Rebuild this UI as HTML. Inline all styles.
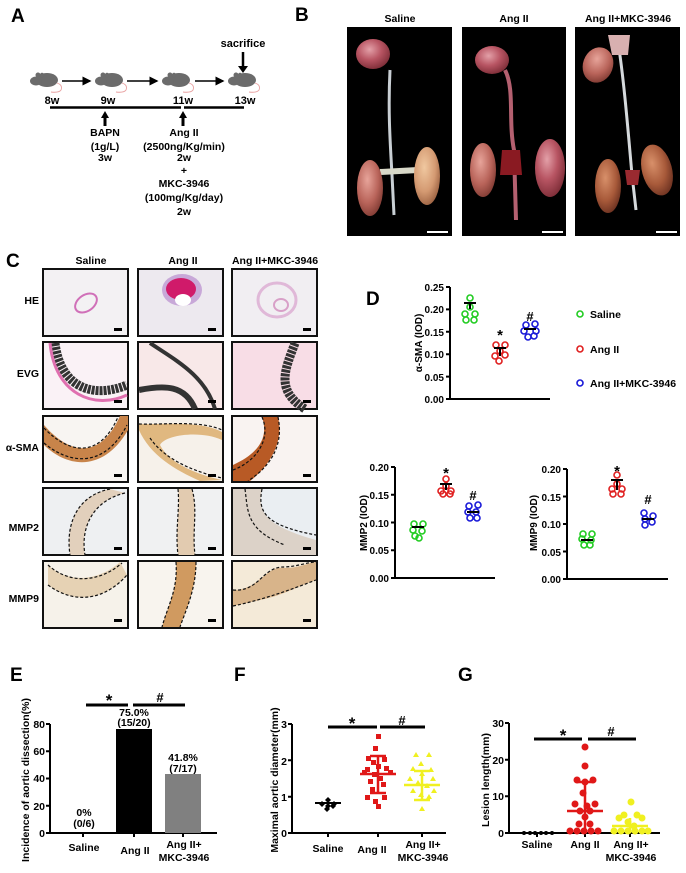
<!DOCTYPE html>
<html><head><meta charset="utf-8"><style>
html,body{margin:0;padding:0;background:#fff}
svg{display:block}
text{font-family:"Liberation Sans",sans-serif;font-weight:bold;fill:#000}
</style></head><body>
<svg width="686" height="873" viewBox="0 0 686 873" xmlns="http://www.w3.org/2000/svg">
<defs>
<g id="mouse">
<ellipse cx="2" cy="0" rx="11" ry="7" fill="#6b6b6b"/>
<ellipse cx="-9" cy="1" rx="6" ry="4.5" fill="#6b6b6b"/>
<circle cx="-7" cy="-5" r="2.5" fill="#6b6b6b"/>
<circle cx="-3" cy="-5" r="2.2" fill="#6b6b6b"/>
<path d="M12,3 q6,2 4,7 q-2,3 -10,2" stroke="#e8a0a0" stroke-width="0.9" fill="none"/>
</g>
<marker id="ah" markerWidth="6" markerHeight="6" refX="5" refY="3" orient="auto"><path d="M0,0 L6,3 L0,6 z" fill="#000"/></marker>
<radialGradient id="hrt" cx="40%" cy="35%" r="70%"><stop offset="0" stop-color="#e3a0a8"/><stop offset="0.5" stop-color="#b85563"/><stop offset="1" stop-color="#7a2b35"/></radialGradient>
<radialGradient id="kid" cx="40%" cy="35%" r="70%"><stop offset="0" stop-color="#e7a49a"/><stop offset="0.6" stop-color="#b9645a"/><stop offset="1" stop-color="#7f3a32"/></radialGradient>
<radialGradient id="kid2" cx="40%" cy="35%" r="70%"><stop offset="0" stop-color="#f0c8a0"/><stop offset="0.6" stop-color="#d49a72"/><stop offset="1" stop-color="#9a6040"/></radialGradient>
<radialGradient id="kid3" cx="40%" cy="35%" r="70%"><stop offset="0" stop-color="#d8906a"/><stop offset="0.6" stop-color="#a85a3a"/><stop offset="1" stop-color="#6a3020"/></radialGradient>
</defs>

<!-- Panel A -->
<text x="11" y="22" font-size="19">A</text>
<use href="#mouse" x="45" y="80"/><use href="#mouse" x="110" y="80"/><use href="#mouse" x="177" y="80"/><use href="#mouse" x="243" y="80"/>
<g stroke="#000" stroke-width="1.5" marker-end="url(#ah)">
<line x1="62" y1="81" x2="90" y2="81"/><line x1="127" y1="81" x2="157" y2="81"/><line x1="195" y1="81" x2="223" y2="81"/>
</g>
<text x="243" y="47" font-size="11" text-anchor="middle">sacrifice</text>
<line x1="243" y1="52" x2="243" y2="68" stroke="#000" stroke-width="2.5"/><path d="M238,66 L248,66 L243,73 z"/>
<g font-size="11" text-anchor="middle"><text x="52" y="104">8w</text><text x="108" y="104">9w</text><text x="183" y="104">11w</text><text x="245" y="104">13w</text></g>
<line x1="50" y1="107.5" x2="181" y2="107.5" stroke="#000" stroke-width="2.5"/><line x1="184" y1="107.5" x2="244" y2="107.5" stroke="#000" stroke-width="2.5"/>
<path d="M101,118 L109,118 L105,111 z"/><line x1="105" y1="116" x2="105" y2="126" stroke="#000" stroke-width="3"/>
<path d="M179,118 L187,118 L183,111 z"/><line x1="183" y1="116" x2="183" y2="126" stroke="#000" stroke-width="3"/>
<g font-size="10.5" text-anchor="middle">
<text x="105" y="136">BAPN</text><text x="105" y="150">(1g/L)</text><text x="105" y="161">3w</text>
<text x="184" y="136">Ang II</text><text x="184" y="150">(2500ng/Kg/min)</text><text x="184" y="161">2w</text>
<text x="184" y="174">+</text><text x="184" y="187">MKC-3946</text><text x="184" y="201">(100mg/Kg/day)</text><text x="184" y="215">2w</text>
</g>

<!-- Panel B -->
<text x="295" y="21" font-size="19">B</text>
<g font-size="10.5" text-anchor="middle"><text x="400" y="22">Saline</text><text x="514" y="22">Ang II</text><text x="628" y="22">Ang II+MKC-3946</text></g>
<rect x="347" y="27" width="105" height="209" fill="#000"/>
<rect x="462" y="27" width="104" height="209" fill="#000"/>
<rect x="575" y="27" width="105" height="209" fill="#000"/>
<!-- photo 1 -->
<path d="M390,70 C388,110 390,140 392,175 L394,215" stroke="#c9cfd4" stroke-width="3" fill="none"/>
<path d="M380,172 L418,170" stroke="#d8d8c8" stroke-width="6"/>
<ellipse cx="373" cy="54" rx="17" ry="15" fill="url(#hrt)"/>
<ellipse cx="370" cy="188" rx="13" ry="28" fill="url(#kid)"/>
<ellipse cx="427" cy="176" rx="13" ry="29" fill="url(#kid2)"/>
<rect x="427" y="231" width="21" height="2" fill="#fff"/>
<!-- photo 2 -->
<path d="M505,70 C515,90 508,120 514,150 L516,220" stroke="#b46070" stroke-width="4" fill="none"/>
<path d="M502,150 L520,150 L522,175 L500,175 z" fill="#8a1a22"/>
<ellipse cx="492" cy="60" rx="17" ry="14" fill="url(#hrt)"/>
<ellipse cx="483" cy="170" rx="13" ry="27" fill="url(#kid)"/>
<ellipse cx="550" cy="168" rx="15" ry="29" fill="url(#hrt)"/>
<rect x="542" y="231" width="21" height="2" fill="#fff"/>
<!-- photo 3 -->
<path d="M618,42 C624,80 628,130 632,175 L636,210" stroke="#d5d9dc" stroke-width="3" fill="none"/>
<path d="M608,35 L630,35 L628,55 L612,55 z" fill="#d8b0b0"/>
<ellipse cx="598" cy="65" rx="15" ry="18" fill="url(#kid)" transform="rotate(20 598 65)"/>
<ellipse cx="608" cy="186" rx="13" ry="27" fill="url(#kid3)"/>
<ellipse cx="657" cy="170" rx="15" ry="26" fill="url(#kid3)" transform="rotate(-15 657 170)"/>
<path d="M625,170 L640,170 L638,185 L627,185z" fill="#9a2a30"/>
<rect x="656" y="231" width="21" height="2" fill="#fff"/>

<!-- Panel C -->
<text x="6" y="267" font-size="19">C</text>
<g font-size="10.5" text-anchor="middle"><text x="91" y="264">Saline</text><text x="183" y="264">Ang II</text><text x="275" y="264">Ang II+MKC-3946</text></g>
<g font-size="10.5" text-anchor="end"><text x="39" y="304">HE</text><text x="39" y="377">EVG</text><text x="39" y="451">α-SMA</text><text x="39" y="531">MMP2</text><text x="39" y="602">MMP9</text></g>
<!-- HE row -->
<rect x="43" y="269" width="85" height="67" fill="#f3f1f3" stroke="#111" stroke-width="2"/>
<ellipse cx="86" cy="303" rx="12" ry="8" fill="none" stroke="#d070b8" stroke-width="2" transform="rotate(-35 86 303)"/>
<rect x="138" y="269" width="85" height="67" fill="#ede9ef" stroke="#111" stroke-width="2"/>
<ellipse cx="182" cy="290" rx="20" ry="16" fill="#c8a8d8"/><ellipse cx="181" cy="289" rx="15" ry="11" fill="#d01a6a"/><ellipse cx="183" cy="300" rx="8" ry="6" fill="#fff"/>
<rect x="232" y="269" width="85" height="67" fill="#f1eef2" stroke="#111" stroke-width="2"/>
<ellipse cx="277" cy="300" rx="19" ry="17" fill="none" stroke="#e0b8d8" stroke-width="3"/><ellipse cx="281" cy="305" rx="7" ry="6" fill="none" stroke="#d8a0c8" stroke-width="2"/>
<g fill="#000"><rect x="114" y="328" width="8" height="3"/><rect x="208" y="328" width="8" height="3"/><rect x="303" y="328" width="8" height="3"/></g>
<!-- EVG row -->
<rect x="43" y="342" width="85" height="67" fill="#faf2f6" stroke="#111" stroke-width="2"/>
<path d="M55,343 C60,385 90,400 127,385" stroke="#333" stroke-width="9" fill="none" stroke-dasharray="3 1"/>
<path d="M50,343 C55,395 95,410 127,395" stroke="#e070b0" stroke-width="3" fill="none"/>
<rect x="138" y="342" width="85" height="67" fill="#f8e8e8" stroke="#111" stroke-width="2"/>
<path d="M150,343 C175,360 205,375 215,409" stroke="#333" stroke-width="4" fill="none"/>
<path d="M139,390 C165,385 185,385 195,409" stroke="#333" stroke-width="6" fill="none"/>
<rect x="232" y="342" width="85" height="67" fill="#f8dde6" stroke="#111" stroke-width="2"/>
<path d="M295,343 C285,370 275,390 305,409" stroke="#333" stroke-width="9" fill="none" stroke-dasharray="3 1"/>
<g fill="#000"><rect x="114" y="400" width="8" height="3"/><rect x="208" y="400" width="8" height="3"/><rect x="303" y="400" width="8" height="3"/></g>
<!-- a-SMA row -->
<rect x="43" y="416" width="85" height="66" fill="#f8f5f2" stroke="#111" stroke-width="2"/>
<path d="M44,425 C70,455 100,460 120,416 L128,416 L128,430 C105,470 70,470 44,445z" fill="#c8844a"/>
<path d="M44,428 C70,455 100,458 118,417" stroke="#111" stroke-width="1.2" stroke-dasharray="3 2" fill="none"/>
<path d="M44,443 C70,465 105,468 127,425" stroke="#111" stroke-width="1.2" stroke-dasharray="3 2" fill="none"/>
<rect x="138" y="416" width="85" height="66" fill="#f6f1ea" stroke="#111" stroke-width="2"/>
<path d="M139,424 C160,425 200,420 222,432 L222,440 C200,430 165,435 160,445 C170,465 200,475 222,480 L200,481 C175,470 150,455 139,430z" fill="#e0b880"/>
<path d="M139,424 C165,425 200,420 222,430" stroke="#111" stroke-width="1.2" stroke-dasharray="3 2" fill="none"/>
<path d="M150,438 C165,460 195,472 222,478" stroke="#111" stroke-width="1.2" stroke-dasharray="3 2" fill="none"/>
<rect x="232" y="416" width="85" height="66" fill="#f9f3f1" stroke="#111" stroke-width="2"/>
<path d="M262,417 L278,417 C285,445 265,470 250,481 L233,481 L233,465 C255,455 270,440 262,417z" fill="#b85a25"/>
<path d="M262,417 C272,440 255,462 233,470" stroke="#111" stroke-width="1.2" stroke-dasharray="3 2" fill="none"/>
<path d="M278,417 C285,450 265,470 248,481" stroke="#111" stroke-width="1.2" stroke-dasharray="3 2" fill="none"/>
<g fill="#000"><rect x="114" y="474" width="8" height="3"/><rect x="208" y="474" width="8" height="3"/><rect x="303" y="474" width="8" height="3"/></g>
<!-- MMP2 row -->
<rect x="43" y="488" width="85" height="67" fill="#eef0f2" stroke="#111" stroke-width="2"/>
<path d="M110,489 C80,495 65,520 70,555 L85,555 C80,525 95,500 125,493z" fill="#e2d0bc"/>
<path d="M110,489 C80,495 65,520 70,555" stroke="#111" stroke-width="1.2" stroke-dasharray="3 2" fill="none"/>
<path d="M125,493 C95,500 80,525 85,555" stroke="#111" stroke-width="1.2" stroke-dasharray="3 2" fill="none"/>
<rect x="138" y="488" width="85" height="67" fill="#f0f1f2" stroke="#111" stroke-width="2"/>
<path d="M178,489 C180,510 175,530 178,555 L195,555 C192,530 198,510 192,489z" fill="#e2cbb0"/>
<path d="M178,489 C180,510 175,530 178,555 M192,489 C198,510 192,530 195,555" stroke="#111" stroke-width="1.2" stroke-dasharray="3 2" fill="none"/>
<rect x="232" y="488" width="85" height="67" fill="#eaeef2" stroke="#111" stroke-width="2"/>
<path d="M233,489 L262,489 C258,510 262,525 316,540 L316,555 L233,555z" fill="#dcd2c8"/>
<path d="M245,489 C248,510 245,530 285,545 M262,489 C258,510 262,525 316,535" stroke="#111" stroke-width="1.2" stroke-dasharray="3 2" fill="none"/>
<g fill="#000"><rect x="114" y="547" width="8" height="3"/><rect x="208" y="547" width="8" height="3"/><rect x="303" y="547" width="8" height="3"/></g>
<!-- MMP9 row -->
<rect x="43" y="561" width="85" height="67" fill="#f6f2ea" stroke="#111" stroke-width="2"/>
<path d="M48,565 C70,585 100,580 120,562 L127,575 C105,600 75,605 48,585z" fill="#e6d2b4"/>
<path d="M48,565 C70,585 100,582 122,563 M48,585 C75,605 105,600 127,575" stroke="#111" stroke-width="1.2" stroke-dasharray="3 2" fill="none"/>
<rect x="138" y="561" width="85" height="67" fill="#f8f4ee" stroke="#111" stroke-width="2"/>
<path d="M176,562 L196,562 C196,590 185,612 180,627 L162,627 C168,605 178,590 176,562z" fill="#d09a60"/>
<path d="M176,562 C178,590 168,605 162,627 M196,562 C196,590 185,612 180,627" stroke="#111" stroke-width="1.2" stroke-dasharray="3 2" fill="none"/>
<rect x="232" y="561" width="85" height="67" fill="#f4ead8" stroke="#111" stroke-width="2"/>
<path d="M233,590 C260,590 265,565 285,568 C300,568 310,562 316,562 L316,580 C300,585 285,595 260,600 L233,606z" fill="#d8b48a"/>
<path d="M233,590 C260,592 262,566 285,567 C300,566 308,562 316,562 M233,606 C262,600 290,590 316,580" stroke="#111" stroke-width="1.2" stroke-dasharray="3 2" fill="none"/>
<g fill="#000"><rect x="114" y="619" width="8" height="3"/><rect x="208" y="619" width="8" height="3"/><rect x="303" y="619" width="8" height="3"/></g>

<!-- Panel D -->
<text x="366" y="305" font-size="19">D</text>
<g stroke="#000" stroke-width="2" fill="none">
<path d="M450,287 L450,399 L550,399"/>
<path d="M446,287 h4 M446,309.4 h4 M446,331.8 h4 M446,354.2 h4 M446,376.6 h4 M446,399 h4"/>
</g>
<g font-size="10" text-anchor="end"><text x="444" y="291">0.25</text><text x="444" y="313">0.20</text><text x="444" y="336">0.15</text><text x="444" y="358">0.10</text><text x="444" y="381">0.05</text><text x="444" y="403">0.00</text></g>
<text transform="translate(422 343) rotate(-90)" font-size="10" text-anchor="middle">α-SMA (IOD)</text>
<g fill="none" stroke-width="1.6">
<g stroke="#22cc22"><circle cx="470" cy="298" r="3"/><circle cx="470" cy="307" r="3"/><circle cx="465" cy="314" r="3"/><circle cx="475" cy="314" r="3"/><circle cx="466" cy="320" r="3"/><circle cx="474" cy="320" r="3"/></g>
<g stroke="#e02020"><circle cx="496" cy="345" r="3"/><circle cx="505" cy="345" r="3"/><circle cx="500" cy="351" r="3"/><circle cx="495" cy="356" r="3"/><circle cx="505" cy="355" r="3"/><circle cx="499" cy="361" r="3"/></g>
<g stroke="#1a1ad8"><circle cx="526" cy="325" r="3"/><circle cx="535" cy="324" r="3"/><circle cx="524" cy="331" r="3"/><circle cx="536" cy="331" r="3"/><circle cx="528" cy="337" r="3"/><circle cx="534" cy="336" r="3"/></g>
</g>
<g stroke="#000" stroke-width="2"><line x1="464" y1="303" x2="476" y2="303"/><line x1="470" y1="303" x2="470" y2="309"/><line x1="494" y1="348" x2="506" y2="348"/><line x1="500" y1="348" x2="500" y2="356"/><line x1="524" y1="329" x2="536" y2="329"/></g>
<text x="500" y="340" font-size="15" text-anchor="middle">*</text>
<text x="530" y="321" font-size="13" text-anchor="middle">#</text>
<g fill="none" stroke-width="1.6"><circle cx="580" cy="314" r="3" stroke="#22cc22"/><circle cx="580" cy="349" r="3" stroke="#e02020"/><circle cx="580" cy="383" r="3" stroke="#1a1ad8"/></g>
<g font-size="10.5"><text x="590" y="318">Saline</text><text x="590" y="353">Ang II</text><text x="590" y="387">Ang II+MKC-3946</text></g>

<!-- MMP2 -->
<g stroke="#000" stroke-width="2" fill="none">
<path d="M395,467 L395,578 L495,578"/>
<path d="M391,467 h4 M391,494.75 h4 M391,522.5 h4 M391,550.25 h4 M391,578 h4"/>
</g>
<g font-size="10" text-anchor="end"><text x="389" y="471">0.20</text><text x="389" y="499">0.15</text><text x="389" y="527">0.10</text><text x="389" y="554">0.05</text><text x="389" y="582">0.00</text></g>
<text transform="translate(367 523) rotate(-90)" font-size="10" text-anchor="middle">MMP2 (IOD)</text>
<g fill="none" stroke-width="1.6">
<g stroke="#22cc22"><circle cx="414" cy="524" r="3"/><circle cx="423" cy="524" r="3"/><circle cx="413" cy="530" r="3"/><circle cx="422" cy="531" r="3"/><circle cx="415" cy="536" r="3"/><circle cx="419" cy="538" r="3"/></g>
<g stroke="#e02020"><circle cx="446" cy="479" r="3"/><circle cx="446" cy="486" r="3"/><circle cx="441" cy="491" r="3"/><circle cx="451" cy="491" r="3"/><circle cx="443" cy="494" r="3"/><circle cx="450" cy="494" r="3"/></g>
<g stroke="#1a1ad8"><circle cx="469" cy="506" r="3"/><circle cx="478" cy="505" r="3"/><circle cx="468" cy="512" r="3"/><circle cx="476" cy="512" r="3"/><circle cx="470" cy="518" r="3"/><circle cx="477" cy="518" r="3"/></g>
</g>
<g stroke="#000" stroke-width="2"><line x1="412" y1="527" x2="424" y2="527"/><line x1="440" y1="484" x2="452" y2="484"/><line x1="446" y1="484" x2="446" y2="490"/><line x1="467" y1="512" x2="479" y2="512"/></g>
<text x="446" y="478" font-size="15" text-anchor="middle">*</text>
<text x="473" y="500" font-size="13" text-anchor="middle">#</text>

<!-- MMP9 -->
<g stroke="#000" stroke-width="2" fill="none">
<path d="M567,469 L567,579 L668,579"/>
<path d="M563,469 h4 M563,496.5 h4 M563,524 h4 M563,551.5 h4 M563,579 h4"/>
</g>
<g font-size="10" text-anchor="end"><text x="561" y="473">0.20</text><text x="561" y="501">0.15</text><text x="561" y="528">0.10</text><text x="561" y="556">0.05</text><text x="561" y="583">0.00</text></g>
<text transform="translate(537 523) rotate(-90)" font-size="10" text-anchor="middle">MMP9 (IOD)</text>
<g fill="none" stroke-width="1.6">
<g stroke="#22cc22"><circle cx="583" cy="534" r="3"/><circle cx="592" cy="534" r="3"/><circle cx="582" cy="539" r="3"/><circle cx="591" cy="540" r="3"/><circle cx="584" cy="545" r="3"/><circle cx="590" cy="545" r="3"/></g>
<g stroke="#e02020"><circle cx="617" cy="475" r="3"/><circle cx="617" cy="484" r="3"/><circle cx="612" cy="489" r="3"/><circle cx="622" cy="489" r="3"/><circle cx="613" cy="494" r="3"/><circle cx="621" cy="494" r="3"/></g>
<g stroke="#1a1ad8"><circle cx="644" cy="513" r="3"/><circle cx="653" cy="516" r="3"/><circle cx="645" cy="519" r="3"/><circle cx="652" cy="522" r="3"/><circle cx="645" cy="525" r="3"/></g>
</g>
<g stroke="#000" stroke-width="2"><line x1="581" y1="540" x2="593" y2="540"/><line x1="611" y1="480" x2="623" y2="480"/><line x1="617" y1="480" x2="617" y2="490"/><line x1="642" y1="519" x2="654" y2="519"/></g>
<text x="617" y="476" font-size="15" text-anchor="middle">*</text>
<text x="648" y="504" font-size="13" text-anchor="middle">#</text>

<!-- Panel E -->
<text x="10" y="681" font-size="19">E</text>
<text transform="translate(29 780) rotate(-90)" font-size="10.5" text-anchor="middle">Incidence of aortic dissection(%)</text>
<g stroke="#000" stroke-width="2" fill="none">
<path d="M50,724 L50,833 L217,833"/>
<path d="M46,724 h4 M46,751.25 h4 M46,778.5 h4 M46,805.75 h4 M46,833 h4 M83,833 v4 M134,833 v4 M183,833 v4"/>
</g>
<g font-size="10.5" text-anchor="end"><text x="45" y="728">80</text><text x="45" y="755">60</text><text x="45" y="782">40</text><text x="45" y="810">20</text><text x="45" y="837">0</text></g>
<rect x="116" y="729" width="36" height="104" fill="#000"/>
<rect x="165" y="774" width="36" height="59" fill="#808080"/>
<g font-size="10.5" text-anchor="middle">
<text x="134" y="716">75.0%</text><text x="134" y="726">(15/20)</text>
<text x="183" y="761">41.8%</text><text x="183" y="772">(7/17)</text>
<text x="84" y="816">0%</text><text x="84" y="827">(0/6)</text>
<text x="84" y="851">Saline</text><text x="135" y="854">Ang II</text><text x="184" y="848">Ang II+</text><text x="184" y="861">MKC-3946</text>
</g>
<g stroke="#000" stroke-width="3"><line x1="86" y1="705" x2="128" y2="705"/><line x1="133" y1="705" x2="185" y2="705"/></g>
<text x="109" y="706" font-size="17" text-anchor="middle">*</text>
<text x="160" y="702" font-size="13" text-anchor="middle">#</text>

<!-- Panel F -->
<text x="234" y="681" font-size="19">F</text>
<text transform="translate(278 780) rotate(-90)" font-size="10.5" text-anchor="middle">Maximal aortic diameter(mm)</text>
<g stroke="#000" stroke-width="2" fill="none">
<path d="M292,724 L292,833 L446,833"/>
<path d="M288,724 h4 M288,760.3 h4 M288,796.7 h4 M288,833 h4 M328,833 v4 M378,833 v4 M422,833 v4"/>
</g>
<g font-size="10.5" text-anchor="end"><text x="287" y="728">3</text><text x="287" y="765">2</text><text x="287" y="801">1</text><text x="287" y="837">0</text></g>
<g fill="#000">
<path d="M328,797 l3,3 l-3,3 l-3,-3z"/><path d="M322,801 l3,3 l-3,3 l-3,-3z"/><path d="M334,801 l3,3 l-3,3 l-3,-3z"/><path d="M328,803 l3,3 l-3,3 l-3,-3z"/><path d="M327,806 l3,3 l-3,3 l-3,-3z"/><path d="M333,803 l3,3 l-3,3 l-3,-3z"/>
</g>
<g stroke="#000" stroke-width="2"><line x1="315" y1="803" x2="341" y2="803"/><line x1="328" y1="800" x2="328" y2="807"/></g>
<g fill="#e01818">
<rect x="376" y="734" width="5" height="5"/><rect x="373" y="746" width="5" height="5"/><rect x="366" y="756" width="5" height="5"/><rect x="382" y="757" width="5" height="5"/><rect x="371" y="760" width="5" height="5"/><rect x="376" y="764" width="5" height="5"/><rect x="365" y="767" width="5" height="5"/><rect x="384" y="766" width="5" height="5"/><rect x="362" y="770" width="5" height="5"/><rect x="388" y="770" width="5" height="5"/><rect x="372" y="772" width="5" height="5"/><rect x="378" y="776" width="5" height="5"/><rect x="368" y="779" width="5" height="5"/><rect x="381" y="782" width="5" height="5"/><rect x="370" y="787" width="5" height="5"/><rect x="365" y="795" width="5" height="5"/><rect x="382" y="795" width="5" height="5"/><rect x="373" y="799" width="5" height="5"/><rect x="376" y="804" width="5" height="5"/>
</g>
<g stroke="#e01818" stroke-width="2.5"><line x1="360" y1="774" x2="396" y2="774"/><line x1="378" y1="756" x2="378" y2="793"/><line x1="370" y1="756" x2="386" y2="756"/><line x1="370" y1="793" x2="386" y2="793"/></g>
<g fill="#f0f020">
<path d="M413,757 l3,-5 l3,5z"/><path d="M426,757 l3,-5 l3,5z"/><path d="M418,766 l3,-5 l3,5z"/><path d="M410,771 l3,-5 l3,5z"/><path d="M428,772 l3,-5 l3,5z"/><path d="M419,776 l3,-5 l3,5z"/><path d="M407,781 l3,-5 l3,5z"/><path d="M430,781 l3,-5 l3,5z"/><path d="M415,785 l3,-5 l3,5z"/><path d="M424,788 l3,-5 l3,5z"/><path d="M410,793 l3,-5 l3,5z"/><path d="M431,793 l3,-5 l3,5z"/><path d="M418,797 l3,-5 l3,5z"/><path d="M426,799 l3,-5 l3,5z"/><path d="M419,811 l3,-5 l3,5z"/>
</g>
<g stroke="#f0f020" stroke-width="2.5"><line x1="404" y1="785" x2="440" y2="785"/><line x1="422" y1="771" x2="422" y2="800"/><line x1="414" y1="771" x2="430" y2="771"/><line x1="414" y1="800" x2="430" y2="800"/></g>
<g stroke="#000" stroke-width="3"><line x1="328" y1="727" x2="377" y2="727"/><line x1="380" y1="727" x2="425" y2="727"/></g>
<text x="352" y="729" font-size="17" text-anchor="middle">*</text>
<text x="402" y="725" font-size="13" text-anchor="middle">#</text>
<g font-size="10.5" text-anchor="middle"><text x="328" y="852">Saline</text><text x="372" y="853">Ang II</text><text x="423" y="848">Ang II+</text><text x="423" y="861">MKC-3946</text></g>

<!-- Panel G -->
<text x="458" y="681" font-size="19">G</text>
<text transform="translate(489 780) rotate(-90)" font-size="10.5" text-anchor="middle">Lesion length(mm)</text>
<g stroke="#000" stroke-width="2" fill="none">
<path d="M509,723 L509,833 L660,833"/>
<path d="M505,723 h4 M505,759.7 h4 M505,796.3 h4 M505,833 h4 M537,833 v4 M585,833 v4 M630,833 v4"/>
</g>
<g font-size="10.5" text-anchor="end"><text x="504" y="727">30</text><text x="504" y="764">20</text><text x="504" y="800">10</text><text x="504" y="837">0</text></g>
<g fill="#000"><circle cx="524" cy="833" r="2"/><circle cx="530" cy="833" r="2"/><circle cx="535" cy="833" r="2"/><circle cx="541" cy="833" r="2"/><circle cx="546" cy="833" r="2"/><circle cx="552" cy="833" r="2"/></g>
<g fill="#e01818">
<circle cx="585" cy="747" r="3.5"/><circle cx="585" cy="766" r="3.5"/><circle cx="577" cy="780" r="3.5"/><circle cx="593" cy="780" r="3.5"/><circle cx="585" cy="782" r="3.5"/><circle cx="583" cy="793" r="3.5"/><circle cx="575" cy="804" r="3.5"/><circle cx="595" cy="804" r="3.5"/><circle cx="587" cy="806" r="3.5"/><circle cx="580" cy="811" r="3.5"/><circle cx="590" cy="811" r="3.5"/><circle cx="585" cy="817" r="3.5"/><circle cx="579" cy="824" r="3.5"/><circle cx="590" cy="824" r="3.5"/>
<circle cx="570" cy="831" r="3.5"/><circle cx="577" cy="831" r="3.5"/><circle cx="584" cy="831" r="3.5"/><circle cx="591" cy="831" r="3.5"/><circle cx="598" cy="831" r="3.5"/></g>
<g stroke="#e01818" stroke-width="2.5"><line x1="567" y1="811" x2="603" y2="811"/><line x1="585" y1="782" x2="585" y2="833"/><line x1="577" y1="782" x2="593" y2="782"/></g>
<g fill="#f0f020">
<circle cx="631" cy="802" r="3.5"/><circle cx="624" cy="815" r="3.5"/><circle cx="637" cy="815" r="3.5"/><circle cx="619" cy="818" r="3.5"/><circle cx="642" cy="818" r="3.5"/><circle cx="628" cy="822" r="3.5"/><circle cx="634" cy="826" r="3.5"/>
<circle cx="614" cy="831" r="3.5"/><circle cx="621" cy="831" r="3.5"/><circle cx="628" cy="831" r="3.5"/><circle cx="635" cy="831" r="3.5"/><circle cx="642" cy="831" r="3.5"/><circle cx="648" cy="831" r="3.5"/></g>
<g stroke="#f0f020" stroke-width="2.5"><line x1="612" y1="826" x2="648" y2="826"/><line x1="630" y1="818" x2="630" y2="833"/></g>
<g stroke="#000" stroke-width="3"><line x1="534" y1="739" x2="582" y2="739"/><line x1="588" y1="739" x2="636" y2="739"/></g>
<text x="563" y="741" font-size="17" text-anchor="middle">*</text>
<text x="611" y="736" font-size="13" text-anchor="middle">#</text>
<g font-size="10.5" text-anchor="middle"><text x="537" y="848">Saline</text><text x="585" y="848">Ang II</text><text x="631" y="848">Ang II+</text><text x="631" y="861">MKC-3946</text></g>
</svg>
</body></html>
